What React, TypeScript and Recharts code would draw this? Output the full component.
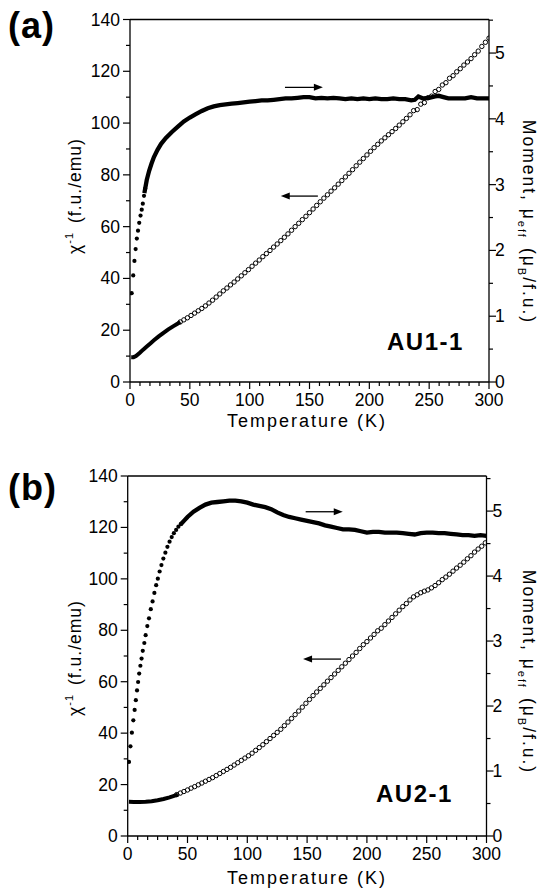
import React from 'react';
import { ComposedChart, Line, Scatter, XAxis, YAxis, ReferenceLine } from 'recharts';

const FONT = '"Liberation Sans", Arial, Helvetica, sans-serif';

// axis ticks
const xTickLabels = [0, 50, 100, 150, 200, 250, 300];
const leftTickLabels = [0, 20, 40, 60, 80, 100, 120, 140];
const rightTickLabels = [0, 1, 2, 3, 4, 5];
const xTicks = Array.from({ length: 37 }, (_, i) => (i * 50) / 6);
const leftTicks = Array.from({ length: 15 }, (_, i) => i * 10);
const rightTicks = Array.from({ length: 12 }, (_, i) => i * 0.5);

// ---- panel (a) AU1-1 ----
const chiA_lowT = [1, 3, 5, 8, 11, 14, 17, 20, 24, 28, 32, 36, 40, 42];
const chiA_lowV = [9.6, 9.6, 10.0, 11.2, 12.5, 13.7, 14.9, 16.1, 17.6, 19.0, 20.3, 21.5, 22.6, 23.2];

const chiA_T = [42, 45, 48, 51, 54, 57, 60, 63, 66, 69, 72, 75, 78, 81, 84, 87, 90, 93, 96, 99,
  102, 105, 108, 111, 114, 117, 120, 123, 126, 129, 132, 135, 138, 141, 144, 147, 150, 153, 156, 159,
  162, 165, 168, 171, 174, 177, 180, 183, 186, 189, 192, 195, 198, 201, 204, 207, 210, 213, 216, 219,
  222, 225, 228, 231, 234, 237, 240, 243, 246, 249, 252, 255, 258, 261, 264, 267, 270, 273, 276, 279,
  282, 285, 288, 291, 294, 297, 300];
const chiA_V = [23.2, 24.0, 24.8, 25.7, 26.6, 27.5, 28.4, 29.4, 30.5, 31.6, 32.8, 34.0, 35.2, 36.3, 37.5, 38.6, 39.8, 41.0, 42.2, 43.4,
  44.7, 45.9, 47.1, 48.4, 49.6, 50.8, 52.1, 53.3, 54.6, 55.9, 57.2, 58.6, 60.0, 61.3, 62.7, 64.0, 65.4, 66.8, 68.2, 69.6,
  71.0, 72.3, 73.7, 75.0, 76.4, 77.8, 79.2, 80.6, 82.0, 83.5, 84.9, 86.3, 87.7, 89.1, 90.5, 91.8, 93.1, 94.3, 95.5, 96.7,
  97.9, 99.2, 100.5, 101.8, 103.2, 104.8, 105.2, 107.3, 107.9, 109.8, 110.4, 112.2, 113.0, 114.7, 115.6, 117.3, 118.3, 119.8, 121.0, 122.4,
  123.6, 124.9, 126.4, 127.8, 129.6, 131.2, 132.8];

const momA_dotT = [1.4, 2.7, 3.7, 4.7, 5.7, 6.7, 7.7, 8.8, 9.8, 10.7, 11.7, 12.7];
const momA_dotV = [1.35, 1.62, 1.84, 2.02, 2.18, 2.30, 2.42, 2.53, 2.62, 2.71, 2.83, 2.94];

const momA_T = [12, 14, 16, 18, 20, 23, 26, 30, 35, 40, 45, 50, 55, 60, 65, 70, 75, 80, 85, 90, 95, 100,
  105, 110, 115, 120, 125, 130, 135, 140, 145, 150, 155, 160, 165, 170, 175, 180, 185, 190, 195, 200,
  205, 210, 215, 220, 225, 230, 235, 238, 241, 245, 250, 255, 258, 262, 266, 270, 275, 280, 285, 290, 295, 300];
const momA_V = [2.87, 3.07, 3.21, 3.32, 3.42, 3.53, 3.62, 3.71, 3.80, 3.88, 3.96, 4.02, 4.07, 4.12, 4.16, 4.19, 4.21, 4.22, 4.23, 4.24, 4.25, 4.26,
  4.27, 4.28, 4.28, 4.29, 4.30, 4.31, 4.31, 4.32, 4.33, 4.33, 4.31, 4.32, 4.31, 4.32, 4.31, 4.30, 4.31, 4.30, 4.31, 4.30,
  4.31, 4.30, 4.30, 4.31, 4.30, 4.30, 4.28, 4.29, 4.34, 4.31, 4.32, 4.34, 4.35, 4.33, 4.31, 4.31, 4.31, 4.31, 4.33, 4.31, 4.31, 4.31];

// ---- panel (b) AU2-1 ----
const chiB_lowT = [1, 5, 10, 15, 20, 25, 30, 35, 40, 42];
const chiB_lowV = [13.3, 13.2, 13.2, 13.3, 13.5, 13.9, 14.4, 15.0, 15.8, 16.1];

const chiB_T = [41, 44, 47, 50, 53, 56, 59, 62, 65, 68, 71, 74, 77, 80, 83, 86, 89, 92, 95, 98,
  101, 104, 107, 110, 113, 116, 119, 122, 125, 128, 131, 134, 137, 140, 143, 146, 149, 152, 155, 158,
  161, 164, 167, 170, 173, 176, 179, 182, 185, 188, 191, 194, 197, 200, 203, 206, 209, 212, 215, 218,
  221, 224, 227, 230, 233, 236, 239, 242, 245, 248, 251, 254, 257, 260, 263, 266, 269, 272, 275, 278,
  281, 284, 287, 290, 293, 296, 299];
const chiB_V = [16.1, 16.7, 17.3, 17.9, 18.6, 19.2, 19.9, 20.6, 21.3, 22.0, 22.7, 23.5, 24.3, 25.1, 25.9, 26.7, 27.6, 28.5, 29.4, 30.3,
  31.2, 32.2, 33.3, 34.4, 35.5, 36.7, 37.9, 39.1, 40.3, 41.5, 42.9, 44.3, 45.7, 47.2, 48.6, 50.1, 51.6, 53.1, 54.6, 56.0,
  57.4, 58.8, 60.2, 61.6, 63.0, 64.4, 65.8, 67.2, 68.6, 70.0, 71.4, 72.9, 74.4, 75.6, 77.0, 78.4, 79.8, 80.8, 82.2, 83.6,
  85.0, 86.4, 87.8, 89.2, 90.4, 91.8, 93.0, 93.8, 94.6, 95.2, 95.7, 96.5, 97.4, 98.5, 99.7, 100.7, 101.8, 103.0, 104.2, 105.3,
  106.5, 107.8, 109.0, 110.4, 111.6, 112.7, 114.0];

const momB_dotT = [1.1, 2.3, 3.5, 4.7, 5.8, 6.8, 7.8, 8.7, 9.6, 10.6, 11.6, 12.6, 13.9, 15.0, 16.4, 17.8,
  19.3, 20.8, 22.3, 23.8, 25.2, 26.7, 28.2, 29.8, 31.5, 33.2, 35.0, 36.8, 38.6, 40.5, 42.4, 44.4];
const momB_dotV = [1.14, 1.38, 1.59, 1.78, 1.94, 2.09, 2.24, 2.37, 2.50, 2.62, 2.73, 2.85, 2.97, 3.09, 3.23, 3.35,
  3.49, 3.61, 3.74, 3.86, 3.96, 4.07, 4.17, 4.27, 4.36, 4.45, 4.53, 4.60, 4.66, 4.71, 4.76, 4.80];

const momB_T = [44, 47, 50, 55, 60, 65, 70, 75, 80, 85, 90, 95, 100, 105, 110, 115, 120, 125, 130, 135, 140,
  145, 150, 155, 160, 165, 170, 175, 180, 185, 190, 195, 200, 205, 210, 215, 220, 225, 230, 235, 240,
  245, 250, 255, 260, 265, 270, 275, 280, 285, 290, 295, 300];
const momB_V = [4.79, 4.85, 4.91, 4.99, 5.05, 5.10, 5.13, 5.14, 5.15, 5.16, 5.16, 5.15, 5.13, 5.10, 5.08, 5.06, 5.03, 4.98, 4.94, 4.91, 4.89,
  4.87, 4.85, 4.83, 4.81, 4.78, 4.76, 4.74, 4.72, 4.72, 4.71, 4.69, 4.67, 4.68, 4.68, 4.67, 4.67, 4.67, 4.66, 4.65, 4.64,
  4.66, 4.67, 4.67, 4.66, 4.66, 4.65, 4.64, 4.63, 4.63, 4.62, 4.63, 4.62];

type Pt = { T: number; v: number };
const zip = (t: number[], v: number[]): Pt[] => t.map((T, i) => ({ T, v: v[i] }));

const near = (a: number, list: number[]) => list.some((b) => Math.abs(a - b) < 1e-6);

const XTick = (p: any) => {
  const { x, y, payload } = p;
  const major = near(payload.value, xTickLabels);
  return (
    <g>
      <line x1={x} y1={y} x2={x} y2={y + (major ? 7 : 4)} stroke="#000" strokeWidth={1.2} />
      {major && (
        <text x={x} y={y + 24} textAnchor="middle" fontSize={17.5} fontFamily={FONT} fill="#000">
          {Math.round(payload.value)}
        </text>
      )}
    </g>
  );
};

const LTick = (p: any) => {
  const { x, y, payload } = p;
  const major = near(payload.value, leftTickLabels);
  return (
    <g>
      <line x1={x} y1={y} x2={x - (major ? 7 : 4)} y2={y} stroke="#000" strokeWidth={1.2} />
      {major && (
        <text x={x - 10} y={y + 6} textAnchor="end" fontSize={17.5} fontFamily={FONT} fill="#000">
          {payload.value}
        </text>
      )}
    </g>
  );
};

const RTick = (p: any) => {
  const { x, y, payload } = p;
  const major = near(payload.value, rightTickLabels);
  return (
    <g>
      <line x1={x} y1={y} x2={x + (major ? 7 : 4)} y2={y} stroke="#000" strokeWidth={1.2} />
      {major && (
        <text x={x + 6} y={y + 6} textAnchor="start" fontSize={17.5} fontFamily={FONT} fill="#000">
          {payload.value}
        </text>
      )}
    </g>
  );
};

const openCircle = (p: any) => (
  <circle cx={p.cx} cy={p.cy} r={2.2} fill="none" stroke="#000" strokeWidth={1} />
);
const filledDot = (p: any) => <circle cx={p.cx} cy={p.cy} r={2.1} fill="#000" />;

const arrowShape = (p: any) => {
  const { x1, y1, x2, y2 } = p;
  const d = Math.sign(x2 - x1);
  return (
    <g>
      <line x1={x1} y1={y1} x2={x2 - d * 6} y2={y2} stroke="#000" strokeWidth={1.3} />
      <polygon points={`${x2},${y2} ${x2 - d * 9},${y2 - 3.5} ${x2 - d * 9},${y2 + 3.5}`} fill="#000" />
    </g>
  );
};

type PanelProps = {
  top: number;
  height: number;
  margin: { top: number; right: number; bottom: number; left: number };
  leftW: number;
  rightW: number;
  rMax: number;
  chiLow: Pt[];
  chi: Pt[];
  momDots: Pt[];
  mom: Pt[];
  arrowR: [number, number, number];
  arrowL: [number, number, number];
};

function Panel(props: PanelProps) {
  const { top, height, margin, leftW, rightW, rMax, chiLow, chi, momDots, mom, arrowR, arrowL } = props;
  const axisLine = { stroke: '#000', strokeWidth: 1.3 };
  return (
    <div style={{ position: 'absolute', left: 0, top }}>
      <ComposedChart width={541} height={height} margin={margin}>
        <XAxis type="number" dataKey="T" domain={[0, 300]} allowDataOverflow ticks={xTicks} interval={0}
          tickSize={0} tickMargin={0} tickLine={false} tick={<XTick />} axisLine={axisLine} height={30} />
        <YAxis yAxisId="l" type="number" domain={[0, 140]} allowDataOverflow ticks={leftTicks} interval={0}
          tickSize={0} tickMargin={0} tickLine={false} tick={<LTick />} axisLine={axisLine} width={leftW} />
        <YAxis yAxisId="r" orientation="right" type="number" domain={[0, rMax]} allowDataOverflow ticks={rightTicks}
          interval={0} tickSize={0} tickMargin={0} tickLine={false} tick={<RTick />} axisLine={axisLine} width={rightW} />
        <ReferenceLine yAxisId="l" y={140} stroke="#000" strokeWidth={1.3} ifOverflow="visible" />
        <Line yAxisId="l" data={chiLow} dataKey="v" type="linear" dot={false} activeDot={false}
          stroke="#000" strokeWidth={4} isAnimationActive={false} />
        <Scatter yAxisId="l" data={chi} dataKey="v" shape={openCircle} isAnimationActive={false} />
        <Line yAxisId="r" data={mom} dataKey="v" type="linear" dot={false} activeDot={false}
          stroke="#000" strokeWidth={4.3} isAnimationActive={false} />
        <Scatter yAxisId="r" data={momDots} dataKey="v" shape={filledDot} isAnimationActive={false} />
        <ReferenceLine yAxisId="l" segment={[{ x: arrowR[0], y: arrowR[2] }, { x: arrowR[1], y: arrowR[2] }]}
          shape={arrowShape} ifOverflow="visible" />
        <ReferenceLine yAxisId="l" segment={[{ x: arrowL[0], y: arrowL[2] }, { x: arrowL[1], y: arrowL[2] }]}
          shape={arrowShape} ifOverflow="visible" />
      </ComposedChart>
    </div>
  );
}

function Labels() {
  const t = { fontFamily: FONT, fill: '#000' };
  return (
    <svg width={541} height={888} style={{ position: 'absolute', left: 0, top: 0, pointerEvents: 'none' }}>
      <text x={8} y={38} fontSize={36} fontWeight="bold" letterSpacing={1} {...t}>(a)</text>
      <text x={8} y={500} fontSize={36} fontWeight="bold" letterSpacing={1} {...t}>(b)</text>

      <text x={387} y={350} fontSize={24} fontWeight="bold" letterSpacing={1.5} {...t}>AU1-1</text>
      <text x={376} y={802} fontSize={24} fontWeight="bold" letterSpacing={1.5} {...t}>AU2-1</text>

      {[{ y: 427 }, { y: 884 }].map((l, i) => (
        <text key={`xt${i}`} x={307} y={l.y} textAnchor="middle" fontSize={18} letterSpacing={2} {...t}>
          Temperature  (K)
        </text>
      ))}

      {[{ cy: 196 }, { cy: 658 }].map((l, i) => (
        <text key={`yl${i}`} transform={`translate(81,${l.cy}) rotate(-90)`} textAnchor="middle" fontSize={17.5}
          letterSpacing={1} {...t}>
          χ<tspan dy={-8} fontSize={11}>-1</tspan>
          <tspan dy={8} dx={9}>(f.u./emu)</tspan>
        </text>
      ))}

      {[{ cy: 222 }, { cy: 672 }].map((l, i) => (
        <text key={`yr${i}`} transform={`translate(523,${l.cy}) rotate(90)`} textAnchor="middle" fontSize={17.5}
          letterSpacing={2} {...t}>
          Moment, μ<tspan dy={5} fontSize={11}>eff</tspan>
          <tspan dy={-5} dx={9}>(μ</tspan>
          <tspan dy={5} fontSize={11}>B</tspan>
          <tspan dy={-5}>/f.u.)</tspan>
        </text>
      ))}
    </svg>
  );
}

export default function App() {
  return (
    <div style={{ position: 'absolute', left: 0, top: 0, width: 541, height: 888, background: '#fff' }}>
      <Panel
        top={0}
        height={440}
        margin={{ top: 19.5, right: 0, bottom: 28, left: 0 }}
        leftW={130}
        rightW={52}
        rMax={5.51}
        chiLow={zip(chiA_lowT, chiA_lowV)}
        chi={zip(chiA_T, chiA_V)}
        momDots={zip(momA_dotT, momA_dotV)}
        mom={zip(momA_T, momA_V)}
        arrowR={[129.5, 161.2, 113.8]}
        arrowL={[157, 126, 71.8]}
      />
      <Panel
        top={440}
        height={448}
        margin={{ top: 36, right: 0, bottom: 22, left: 0 }}
        leftW={127.7}
        rightW={54.5}
        rMax={5.54}
        chiLow={zip(chiB_lowT, chiB_lowV)}
        chi={zip(chiB_T, chiB_V)}
        momDots={zip(momB_dotT, momB_dotV)}
        mom={zip(momB_T, momB_V)}
        arrowR={[148.8, 179.8, 126.1]}
        arrowL={[178.3, 146.6, 68.8]}
      />
      <Labels />
    </div>
  );
}
